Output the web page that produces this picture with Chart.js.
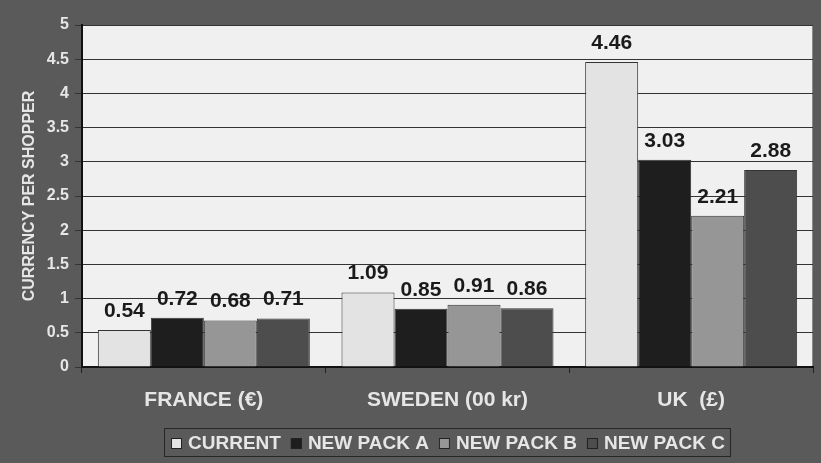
<!DOCTYPE html>
<html><head><meta charset="utf-8">
<script src="https://cdn.jsdelivr.net/npm/chart.js@4/dist/chart.umd.min.js"></script>
<style>html,body{margin:0;padding:0;background:#5a5a5a;}#wrap{width:821px;height:463px;}</style>
</head><body><div id="wrap"><canvas id="c" width="821" height="463"></canvas></div>
<script>
const categories = ["FRANCE (€)", "SWEDEN (00 kr)", "UK  (£)"];
const current = [0.54, 1.09, 4.46];
const newPackA = [0.72, 0.85, 3.03];
const newPackB = [0.68, 0.91, 2.21];
const newPackC = [0.71, 0.86, 2.88];
const seriesNames = ["CURRENT", "NEW PACK A", "NEW PACK B", "NEW PACK C"];
const seriesColors = ["#e3e3e3", "#1e1e1e", "#969696", "#4d4d4d"];
const yTitle = "CURRENCY PER SHOPPER";

const FONT = "'Liberation Sans', Arial, sans-serif";
const LIGHT = '#e6e6e6';

const plotBg = {
  id: 'plotBg',
  beforeDraw(chart) {
    const {ctx, chartArea: a} = chart;
    ctx.save();
    ctx.fillStyle = '#f0f0f0';
    ctx.fillRect(a.left, a.top, a.right - a.left, a.bottom - a.top);
    ctx.strokeStyle = '#8a8a8a';
    ctx.lineWidth = 1;
    ctx.strokeRect(a.left + 0.5, a.top + 0.5, a.right - a.left - 1, a.bottom - a.top);
    ctx.restore();
  }
};

const boxLegend = {
  id: 'boxLegend',
  afterDraw(chart) {
    const {ctx, chartArea: a} = chart;
    const ds = chart.data.datasets;
    ctx.save();
    ctx.font = "bold 19px " + FONT;
    const box = 11, gapAfterBox = 6, gapItem = 10;
    const widths = ds.map(d => ctx.measureText(d.label).width);
    let total = 0;
    widths.forEach((w, i) => { total += box + gapAfterBox + w + (i < widths.length - 1 ? gapItem : 0); });
    let x = Math.round((a.left + a.right) / 2 - total / 2);
    const top = 428, bottom = 456;
    ctx.strokeStyle = '#262626';
    ctx.lineWidth = 1;
    ctx.strokeRect(x - 6.5, top + 0.5, total + 12, bottom - top);
    const baseline = 449;
    ds.forEach((d, i) => {
      ctx.fillStyle = d.backgroundColor;
      ctx.fillRect(x, 438, box, box);
      ctx.strokeStyle = '#222';
      ctx.strokeRect(x + 0.5, 438.5, box - 1, box - 1);
      x += box + gapAfterBox;
      ctx.fillStyle = LIGHT;
      ctx.textBaseline = 'alphabetic';
      ctx.textAlign = 'left';
      ctx.fillText(d.label, x, baseline);
      x += widths[i] + gapItem;
    });
    ctx.restore();
  }
};

const valueLabels = {
  id: 'valueLabels',
  afterDatasetsDraw(chart) {
    const {ctx} = chart;
    ctx.save();
    ctx.font = "bold 21px " + FONT;
    ctx.fillStyle = '#1a1a1a';
    ctx.textAlign = 'center';
    ctx.textBaseline = 'alphabetic';
    chart.data.datasets.forEach((ds, i) => {
      const meta = chart.getDatasetMeta(i);
      meta.data.forEach((bar, j) => {
        ctx.fillText(ds.data[j].toFixed(2), bar.x, bar.y - 13);
      });
    });
    ctx.restore();
  }
};

new Chart(document.getElementById('c'), {
  type: 'bar',
  data: {
    labels: categories,
    datasets: [current, newPackA, newPackB, newPackC].map((d, i) => ({
      label: seriesNames[i],
      data: d,
      backgroundColor: seriesColors[i],
      borderColor: '#333333',
      borderWidth: 1,
      categoryPercentage: 0.87,
      barPercentage: 1.0
    }))
  },
  options: {
    responsive: false,
    animation: false,
    devicePixelRatio: 1,
    layout: { padding: { left: 16, right: 8, top: 25, bottom: 43 } },
    plugins: {
      tooltip: { enabled: false },
      legend: { display: false }
    },
    scales: {
      x: {
        grid: { display: true, drawOnChartArea: false, offset: true, color: '#222', tickLength: 6, lineWidth: 1 },
        border: { display: true, color: '#111', width: 2 },
        ticks: { color: LIGHT, font: { family: FONT, size: 21, weight: 'bold' }, padding: 15 },
        afterFit(s) { s.height = 53; }
      },
      y: {
        min: 0, max: 5,
        ticks: { stepSize: 0.5, color: LIGHT, font: { family: FONT, size: 16, weight: 'bold' }, padding: 6,
                 callback: v => String(Number(v)) },
        grid: { color: '#333', lineWidth: 1, tickLength: 7 },
        border: { display: true, color: '#111', width: 2 },
        title: { display: true, text: yTitle, color: LIGHT, font: { family: FONT, size: 16, weight: 'bold' }, padding: { top: 4, bottom: 0 } },
        afterFit(s) { s.width = 66; }
      }
    }
  },
  plugins: [plotBg, valueLabels, boxLegend]
});
</script>
</body></html>
